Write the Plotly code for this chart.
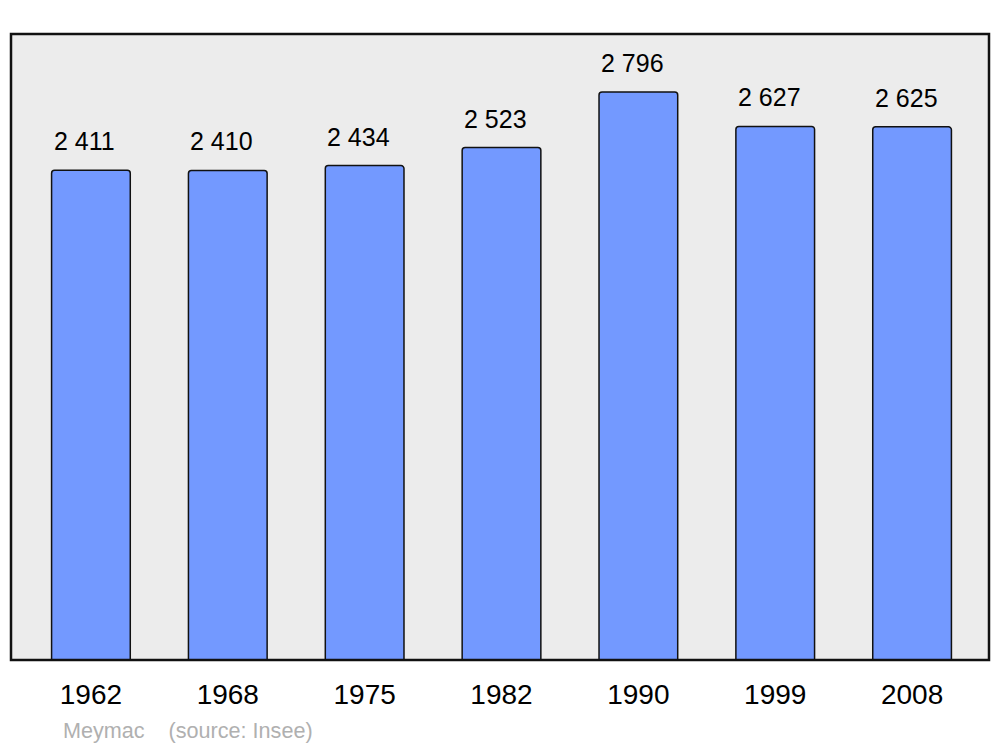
import plotly.graph_objects as go

years = ["1962", "1968", "1975", "1982", "1990", "1999", "2008"]
population = [2411, 2410, 2434, 2523, 2796, 2627, 2625]
value_labels = [f"{v:,}".replace(",", " ") for v in population]
source_text = "Meymac    (source: Insee)"

FONT = "Liberation Sans, Arial, sans-serif"

fig = go.Figure()
fig.add_trace(go.Bar(
    x=years,
    y=population,
    width=0.575,
    marker=dict(color="#7399ff", line=dict(color="#111111", width=1.5), cornerradius=3),
    hoverinfo="skip",
))

for i, (v, lab) in enumerate(zip(population, value_labels)):
    fig.add_annotation(
        x=i, y=v, xref="x", yref="y", text=lab, showarrow=False,
        yanchor="bottom", yshift=13, xshift=-6,
        font=dict(family=FONT, size=25, color="#000000"),
    )

fig.add_annotation(
    x=(61 - 11) / 978, y=(660 - 730) / 626, xref="paper", yref="paper",
    xanchor="left", yanchor="middle", text=source_text, showarrow=False,
    font=dict(family=FONT, size=21.6, color="#b0b0b0"),
)

fig.add_shape(type="rect", xref="paper", yref="paper", x0=0, y0=0, x1=1, y1=1,
              line=dict(color="#111111", width=2.5), layer="above")

fig.update_layout(
    width=1000, height=747,
    margin=dict(l=11, r=11, t=34, b=87),
    paper_bgcolor="#ffffff",
    plot_bgcolor="#ececec",
    showlegend=False,
    xaxis=dict(
        type="category",
        range=[-0.584, 6.562],
        showgrid=False, zeroline=False, showline=False,
        ticks="", ticklabelstandoff=15,
        tickfont=dict(family=FONT, size=28, color="#000000"),
        fixedrange=True,
    ),
    yaxis=dict(
        range=[0, 3082],
        showgrid=False, zeroline=False, showline=False,
        showticklabels=False, ticks="",
        fixedrange=True,
    ),
)

fig.write_html("out.html", config={"displayModeBar": False},
               post_script="document.body.style.margin='0';document.body.style.overflow='hidden';")
